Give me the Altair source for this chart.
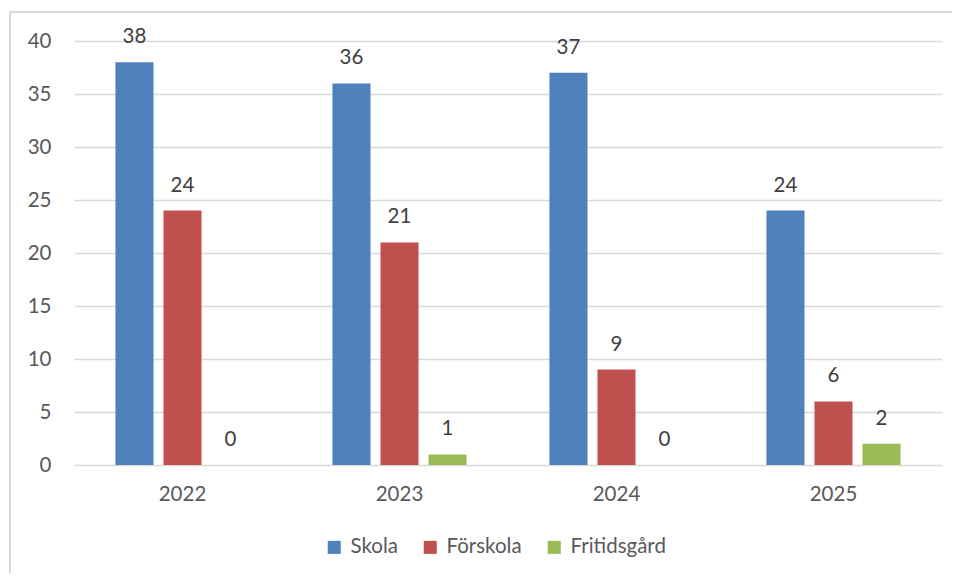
import altair as alt
import pandas as pd

years = ["2022", "2023", "2024", "2025"]
series = ["Skola", "Förskola", "Fritidsgård"]
skola = [38, 36, 37, 24]
forskola = [24, 21, 9, 6]
fritidsgard = [0, 1, 0, 2]
colors = ["#4F81BD", "#C0504D", "#9BBB59"]
y_ticks = [0, 5, 10, 15, 20, 25, 30, 35, 40]

rows = []
for i, y in enumerate(years):
    for s, vals in zip(series, [skola, forskola, fritidsgard]):
        rows.append({"year": y, "series": s, "value": vals[i]})
df = pd.DataFrame(rows)

FONT = "Lato"
FS = 20.5

x_enc = alt.X("year:N", sort=years, title=None,
              scale=alt.Scale(paddingInner=0.382, paddingOuter=0.191),
              axis=alt.Axis(labelAngle=0, labelFontSize=FS, labelColor="#595959",
                            labelFont=FONT, ticks=False, domainColor="#D9D9D9",
                            labelPadding=19, grid=False))
y_enc = alt.Y("value:Q", title=None,
              scale=alt.Scale(domain=[0, 40], nice=False),
              axis=alt.Axis(values=y_ticks, labelFontSize=FS, labelColor="#595959",
                            labelFont=FONT, ticks=False, domain=False,
                            gridColor="#D9D9D9", gridWidth=1.3, labelPadding=23))
xoff = alt.XOffset("series:N", sort=series,
                   scale=alt.Scale(paddingInner=0.208, paddingOuter=0))

bars = alt.Chart(df).mark_bar().encode(
    x=x_enc, y=y_enc, xOffset=xoff,
    color=alt.Color("series:N", sort=series,
                    scale=alt.Scale(domain=series, range=colors),
                    legend=alt.Legend(title=None, orient="none", direction="horizontal",
                                      legendX=250, legendY=496,
                                      symbolType="square", symbolSize=170,
                                      symbolStrokeWidth=0,
                                      labelFontSize=FS, labelColor="#595959",
                                      labelFont=FONT, columnPadding=22,
                                      labelOffset=6)),
)

labels = alt.Chart(df).mark_text(baseline="middle", dy=-25, fontSize=FS,
                                 color="#404040", font=FONT).encode(
    x=alt.X("year:N", sort=years), y="value:Q", xOffset=alt.XOffset("series:N", sort=series),
    text="value:Q",
)

frame_left = alt.Chart(df).mark_rule(color="#D9D9D9", strokeWidth=1.5).encode(
    x=alt.value(-64), y=alt.value(-29), y2=alt.value(560))
frame_top = alt.Chart(df).mark_rule(color="#D9D9D9", strokeWidth=1.5).encode(
    x=alt.value(-64), x2=alt.value(900), y=alt.value(-29))

chart = alt.layer(bars, labels, frame_left, frame_top).properties(
    width=868, height=424,
    autosize=alt.AutoSizeParams(type="none"),
    padding={"left": 66, "top": 33, "right": 10, "bottom": 108},
).configure_view(stroke=None)

chart.save("out.html", embed_options={"renderer": "svg", "actions": False})
